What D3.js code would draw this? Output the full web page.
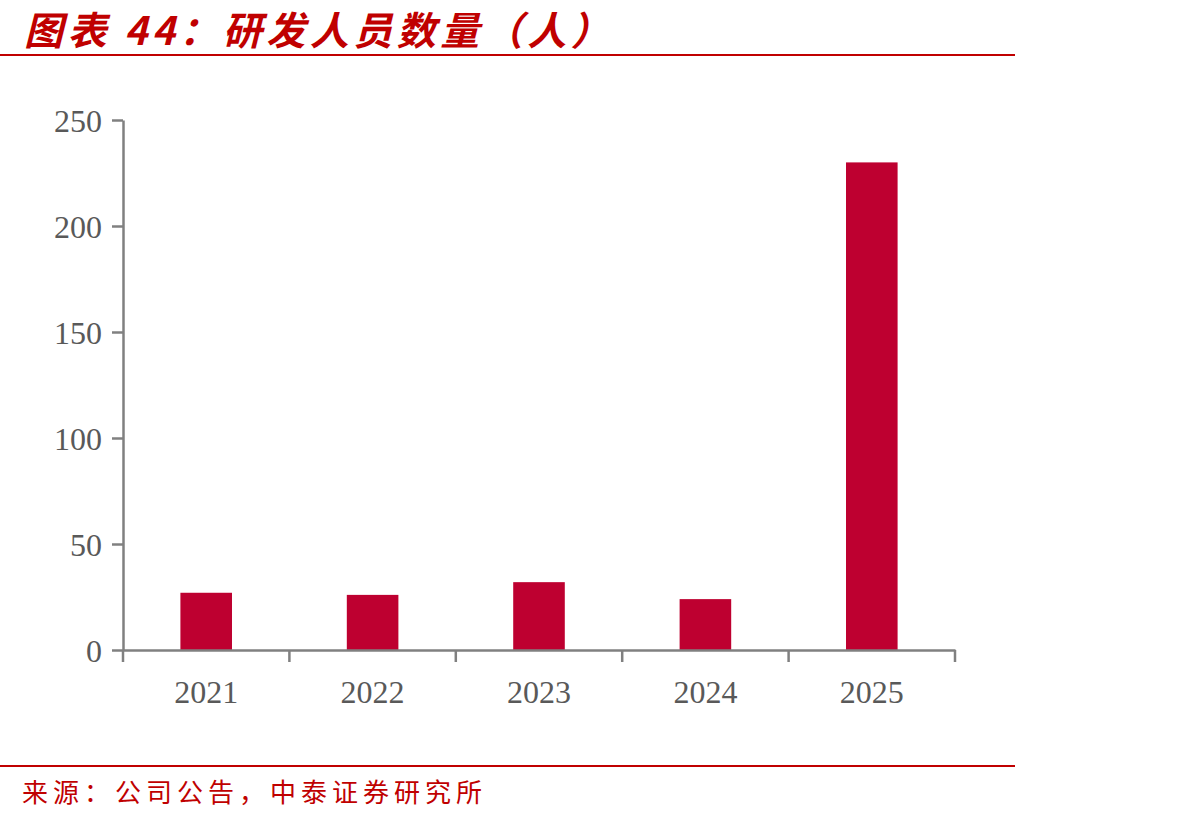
<!DOCTYPE html>
<html>
<head>
<meta charset="utf-8">
<script src="https://cdn.jsdelivr.net/npm/d3@7"></script>
<style>
  body { margin: 0; background: #fff; }
  svg { display: block; }
</style>
</head>
<body>
<div id="chart"></div>
<script>
// data
var years = ["2021", "2022", "2023", "2024", "2025"];
var staff = [27, 26, 32, 24, 230];
var yTicks = [0, 50, 100, 150, 200, 250];

var titleText = "图表 44：研发人员数量（人）";
var sourceText = "来源：公司公告，中泰证券研究所";

var width = 1192, height = 819;
var red = "#c00000";
var barColor = "#be0030";
var axisColor = "#808080";

var svg = d3.select("#chart")
    .append("svg")
    .attr("width", width)
    .attr("height", height);

// title + rule
svg.append("text")
    .attr("x", 24)
    .attr("y", 45)
    .attr("fill", red)
    .style("font-family", "'Noto Sans CJK SC', sans-serif")
    .style("font-size", "39px")
    .style("letter-spacing", "4.5px")
    .style("font-style", "italic")
    .style("font-weight", "bold")
    .text(titleText);

svg.append("line")
    .attr("x1", 0).attr("x2", 1015)
    .attr("y1", 55).attr("y2", 55)
    .attr("stroke", red)
    .attr("stroke-width", 2);

// plot area
var x = d3.scaleBand()
    .domain(years)
    .range([123, 955])
    .paddingInner(0.69)
    .paddingOuter(0.345);

var y = d3.scaleLinear()
    .domain([0, 250])
    .range([650, 120]);

var g = svg.append("g");

g.selectAll(".bar")
    .data(years)
    .enter()
    .append("rect")
    .attr("class", "bar")
    .attr("x", d => x(d))
    .attr("width", x.bandwidth())
    .attr("y", (d, i) => y(staff[i]))
    .attr("height", (d, i) => y(0) - y(staff[i]))
    .attr("fill", barColor);

// y axis
var yAxis = svg.append("g")
    .attr("transform", "translate(123,0)")
    .call(d3.axisLeft(y).tickValues(yTicks).tickSize(11).tickSizeOuter(0).tickPadding(10));

// x axis with ticks at category boundaries
var xAxis = svg.append("g")
    .attr("transform", "translate(0,650)")
    .call(d3.axisBottom(x).tickSize(0).tickSizeOuter(0).tickPadding(30));

var step = x.step();
var bounds = d3.range(years.length + 1).map(i => 123 + i * step);
xAxis.selectAll(".bound")
    .data(bounds)
    .enter()
    .append("line")
    .attr("class", "bound")
    .attr("x1", d => d).attr("x2", d => d)
    .attr("y1", 0).attr("y2", 12)
    .attr("stroke", axisColor)
    .attr("stroke-width", 2.5);

[xAxis, yAxis].forEach(function (ax) {
    ax.select(".domain").attr("stroke", axisColor).attr("stroke-width", 2.5);
    ax.selectAll(".tick line").attr("stroke", axisColor).attr("stroke-width", 2.5);
    ax.selectAll("text")
        .attr("fill", "#595959")
        .style("font-family", "'Liberation Serif', 'Times New Roman', serif")
        .style("font-size", "32px");
});
yAxis.selectAll("text").attr("dy", "0.35em");

// footer
svg.append("line")
    .attr("x1", 0).attr("x2", 1015)
    .attr("y1", 766).attr("y2", 766)
    .attr("stroke", red)
    .attr("stroke-width", 2);

svg.append("text")
    .attr("x", 22)
    .attr("y", 802)
    .attr("fill", red)
    .style("font-family", "'Noto Sans CJK SC', sans-serif")
    .style("font-size", "26px")
    .style("letter-spacing", "5px")
    .text(sourceText);
</script>
</body>
</html>
